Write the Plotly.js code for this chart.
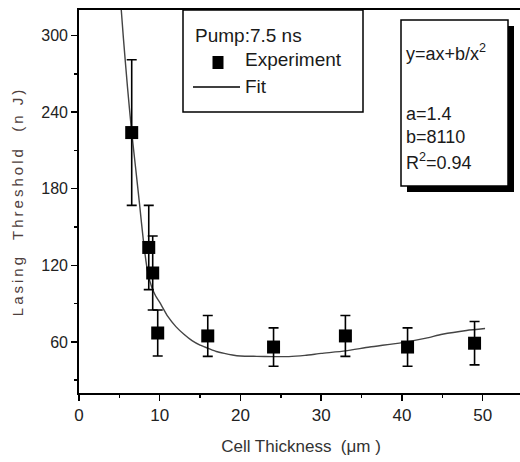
<!DOCTYPE html>
<html>
<head>
<meta charset="utf-8">
<script src="https://cdn.plot.ly/plotly-3.0.1.min.js"></script>
<style>
  html, body { margin: 0; padding: 0; overflow: hidden; background: #fff; }
  #chart { width: 530px; height: 462px; }
  .ytitle { letter-spacing: 3px; }
</style>
</head>
<body>
<div id="chart"></div>
<script>
const thickness = [6.53, 8.64, 9.13, 9.75, 15.95, 24.1, 33.0, 40.7, 49.0];
const threshold = [224, 134, 114, 67, 64.7, 56, 64.7, 56, 59];
const thresholdErr = [57, 33, 29, 18, 16, 15, 16, 15, 17];

// Fit curve
const fitX = [5.2, 5.5, 6.0, 6.5, 7.0, 7.5, 8.0, 8.5, 9.0, 9.5, 10, 11, 12, 13, 14, 15, 16, 17, 18, 19, 20, 22, 24, 26, 28, 30, 33, 36, 40, 43, 45, 48, 50.3];
const fitY = [323, 298, 260, 226, 197, 168, 138, 115, 103, 96, 91, 80, 72, 66, 61, 57.5, 55, 52.5, 51, 49.8, 49, 48.7, 48.5, 48.5, 49.5, 51, 53, 56, 59.5, 63, 66, 69, 70.5];

// Text
const legendTitle = "Pump:7.5 ns";
const seriesNames = ["Experiment", "Fit"];
const fitLines = ["y=ax+b/x<sup>2</sup>", "a=1.4", "b=8110", "R<sup>2</sup>=0.94"];
const xTitle = "Cell Thickness  (μm )";
const yTitle = "Lasing  Threshold  (n J)";

const FONT = "Arial, 'Liberation Sans', sans-serif";

// plot-area pixel helpers for overlay boxes (paper coordinates)
const L = 79, T = 10, W = 444, H = 383;
const px = v => (v - L) / W;
const py = v => (T + H - v) / H;

const traces = [
  {
    type: "scatter", mode: "lines", name: seriesNames[1],
    x: fitX, y: fitY,
    line: { color: "#444", width: 1.4, shape: "spline", smoothing: 0.6 },
    hoverinfo: "skip", showlegend: false
  },
  {
    type: "scatter", mode: "markers", name: seriesNames[0],
    x: thickness, y: threshold,
    marker: { symbol: "square", size: 13, color: "#000" },
    error_y: { type: "data", array: thresholdErr, visible: true, color: "#000", thickness: 1.6, width: 5 },
    showlegend: false
  }
];

const shapes = [
  // legend box
  { type: "rect", xref: "paper", yref: "paper", x0: px(183), x1: px(363), y0: py(112), y1: py(10),
    line: { color: "#000", width: 1.5 }, fillcolor: "#fff", layer: "below" },
  // legend marker
  { type: "rect", xref: "paper", yref: "paper", x0: px(212.5), x1: px(223.5), y0: py(69), y1: py(56),
    line: { width: 0 }, fillcolor: "#000" },
  // legend line
  { type: "line", xref: "paper", yref: "paper", x0: px(193), x1: px(240), y0: py(87), y1: py(87),
    line: { color: "#000", width: 1.3 } },
  // stats box shadow
  { type: "rect", xref: "paper", yref: "paper", x0: px(407), x1: px(514), y0: py(192), y1: py(26),
    line: { width: 0 }, fillcolor: "#000" },
  // stats box
  { type: "rect", xref: "paper", yref: "paper", x0: px(401), x1: px(508), y0: py(186), y1: py(20),
    line: { color: "#000", width: 1.5 }, fillcolor: "#fff" }
];

const ann = (text, xpix, ypix, size) => ({
  text: text, xref: "paper", yref: "paper", x: px(xpix), y: py(ypix),
  xanchor: "left", yanchor: "middle", showarrow: false,
  font: { family: FONT, size: size, color: "#1a1a1a" }
});

const annotations = [
  ann(legendTitle, 193, 35, 19),
  ann(seriesNames[0], 243, 60, 19),
  ann(seriesNames[1], 243, 86, 19),
  ann(fitLines[0], 404, 52, 18),
  ann(fitLines[1], 404, 114, 18),
  ann(fitLines[2], 404, 137, 18),
  ann(fitLines[3], 404, 161, 18)
];

const layout = {
  width: 530, height: 462,
  margin: { l: L, t: T, r: 530 - L - W, b: 462 - T - H },
  paper_bgcolor: "#fff", plot_bgcolor: "#fff",
  showlegend: false,
  xaxis: {
    range: [0, 55], dtick: 10, tick0: 0,
    showgrid: false, zeroline: false,
    showline: true, linecolor: "#000", linewidth: 1.8, mirror: true,
    ticks: "outside", ticklen: 6, tickwidth: 1.5, tickcolor: "#000",
    minor: { dtick: 5, ticks: "outside", ticklen: 3, tickwidth: 1.5, tickcolor: "#000" },
    tickfont: { family: FONT, size: 17, color: "#222" },
    title: { text: xTitle, font: { family: FONT, size: 17, color: "#333" }, standoff: 16 },
    automargin: false
  },
  yaxis: {
    range: [20, 320], dtick: 60, tick0: 0,
    showgrid: false, zeroline: false,
    showline: true, linecolor: "#000", linewidth: 1.8, mirror: true,
    ticks: "outside", ticklen: 6, tickwidth: 1.5, tickcolor: "#000",
    minor: { dtick: 30, ticks: "outside", ticklen: 3, tickwidth: 1.5, tickcolor: "#000" },
    tickfont: { family: FONT, size: 16, color: "#222" },
    title: { text: yTitle, font: { family: FONT, size: 15, color: "#4e403d" }, standoff: 14 },
    automargin: false
  },
  shapes: shapes,
  annotations: annotations
};

Plotly.newPlot("chart", traces, layout, { staticPlot: true, displayModeBar: false });
</script>
</body>
</html>
